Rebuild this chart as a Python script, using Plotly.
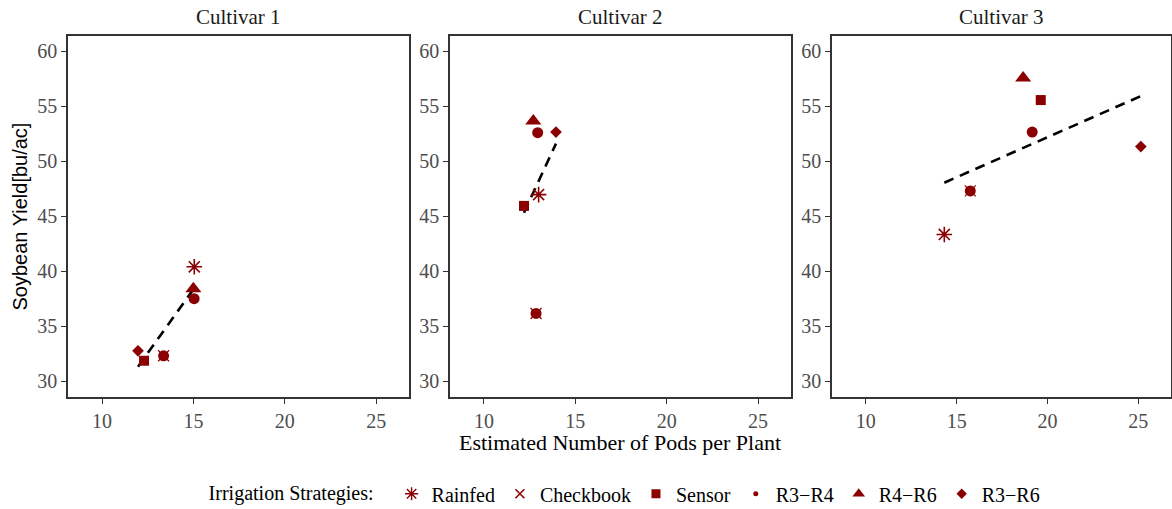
import numpy as np
import plotly.graph_objects as go

# Yield vs. pod count per cultivar, one point per irrigation strategy
cultivars = ["Cultivar 1", "Cultivar 2", "Cultivar 3"]
strategies = ["Rainfed", "Checkbook", "Sensor", "R3\u2212R4", "R4\u2212R6", "R3\u2212R6"]

pods_c1 = [15.05, 13.37, 12.30, 15.04, 15.00, 11.97]
yield_c1 = [40.40, 32.30, 31.85, 37.50, 38.40, 32.75]

pods_c2 = [12.99, 12.85, 12.19, 12.94, 12.70, 13.94]
yield_c2 = [46.97, 36.15, 45.94, 52.60, 53.66, 52.66]

pods_c3 = [14.32, 15.75, 19.63, 19.16, 18.66, 25.14]
yield_c3 = [43.34, 47.30, 55.57, 52.66, 57.57, 51.34]

x_ticks = [10, 15, 20, 25]
y_ticks = [30, 35, 40, 45, 50, 55, 60]

pods = [pods_c1, pods_c2, pods_c3]
yields = [yield_c1, yield_c2, yield_c3]

RED = "#8B0000"
SERIF = "Liberation Serif"
SANS = "Liberation Sans"

# plot symbol per strategy: (symbol, size, outline width)
marker_style = {
    "Rainfed": ("asterisk-open", 13, 1.6),
    "Checkbook": ("x-thin-open", 11, 1.2),
    "Sensor": ("square", 10, 0),
    "R3\u2212R4": ("circle", 11, 0),
    "R4\u2212R6": ("triangle-up", 14, 0),
    "R3\u2212R6": ("diamond", 9, 0),
}
# smaller keys used in the legend
legend_style = {
    "Rainfed": ("asterisk-open", 11, 1.4),
    "Checkbook": ("x-thin-open", 9, 1.6),
    "Sensor": ("square", 9, 0),
    "R3\u2212R4": ("circle", 5, 0),
    "R4\u2212R6": ("triangle-up", 11, 0),
    "R3\u2212R6": ("diamond", 8, 0),
}

fig = go.Figure()

domains = [(0.0, 0.3092), (0.3463, 0.6555), (0.6927, 1.0)]

for p in range(3):
    xa = "x" if p == 0 else f"x{p + 1}"
    ya = "y" if p == 0 else f"y{p + 1}"
    xs = np.array(pods[p])
    ys = np.array(yields[p])

    # least-squares trend line over the observed pod range
    slope, intercept = np.polyfit(xs, ys, 1)
    line_x = np.array([xs.min(), xs.max()])
    fig.add_trace(go.Scatter(
        x=line_x, y=slope * line_x + intercept, mode="lines",
        line=dict(color="black", width=2.6, dash="10px,7px"),
        showlegend=False, hoverinfo="skip", xaxis=xa, yaxis=ya,
    ))

    for i, s in enumerate(strategies):
        sym, size, lw = marker_style[s]
        fig.add_trace(go.Scatter(
            x=[xs[i]], y=[ys[i]], mode="markers", name=s,
            marker=dict(symbol=sym, size=size, color=RED,
                        line=dict(color=RED, width=lw)),
            showlegend=False, xaxis=xa, yaxis=ya,
        ))
        if s == "Checkbook":
            # filled disc drawn over the cross
            fig.add_trace(go.Scatter(
                x=[xs[i]], y=[ys[i]], mode="markers",
                marker=dict(symbol="circle", size=11, color=RED,
                            line=dict(width=0)),
                showlegend=False, hoverinfo="skip", xaxis=xa, yaxis=ya,
            ))

    axis_common = dict(
        showline=True, mirror=True, linecolor="#333333", linewidth=1.5,
        showgrid=False, zeroline=False, ticks="outside", ticklen=5,
        tickcolor="#333333", tickwidth=1.2,
        tickfont=dict(family=SERIF, size=20, color="#4D4D4D"),
    )
    fig.update_layout(**{
        ("xaxis" if p == 0 else f"xaxis{p + 1}"): dict(
            domain=domains[p], range=[8.14, 26.8], tickvals=x_ticks,
            anchor=ya, automargin=False, **axis_common),
        ("yaxis" if p == 0 else f"yaxis{p + 1}"): dict(
            domain=[0, 1], range=[28.55, 61.4], tickvals=y_ticks,
            anchor=xa, automargin=False, **axis_common),
    })
    fig.add_annotation(
        text=cultivars[p], xref="paper", yref="paper",
        x=(domains[p][0] + domains[p][1]) / 2, y=1.0, yshift=5,
        xanchor="center", yanchor="bottom", showarrow=False,
        font=dict(family=SERIF, size=21, color="#1A1A1A"),
    )

# legend keys
for s in strategies:
    sym, size, lw = legend_style[s]
    fig.add_trace(go.Scatter(
        x=[None], y=[None], mode="markers", name=s,
        marker=dict(symbol=sym, size=size, color=RED,
                    line=dict(color=RED, width=lw)),
        showlegend=True,
    ))

fig.add_annotation(
    text="Estimated Number of Pods per Plant", xref="paper", yref="paper",
    x=0.5, y=0, yshift=-31, xanchor="center", yanchor="top", showarrow=False,
    font=dict(family=SERIF, size=22, color="black"),
)
fig.add_annotation(
    text="Soybean Yield[bu/ac]", xref="paper", yref="paper",
    x=0, y=0.5, xshift=-49, xanchor="center", yanchor="middle",
    textangle=-90, showarrow=False,
    font=dict(family=SANS, size=20, color="black"),
)

fig.update_layout(
    width=1172, height=509,
    margin=dict(l=68, r=1, t=36, b=112, autoexpand=False),
    paper_bgcolor="white", plot_bgcolor="white",
    legend=dict(
        orientation="h", x=0.506, xanchor="center",
        yref="container", y=0.03, yanchor="middle",
        title=dict(text="Irrigation Strategies:  ",
                   font=dict(family=SERIF, size=20, color="black")),
        font=dict(family=SERIF, size=20, color="black"),
        itemwidth=30, tracegroupgap=0,
    ),
)

fig.write_html("out.html")
